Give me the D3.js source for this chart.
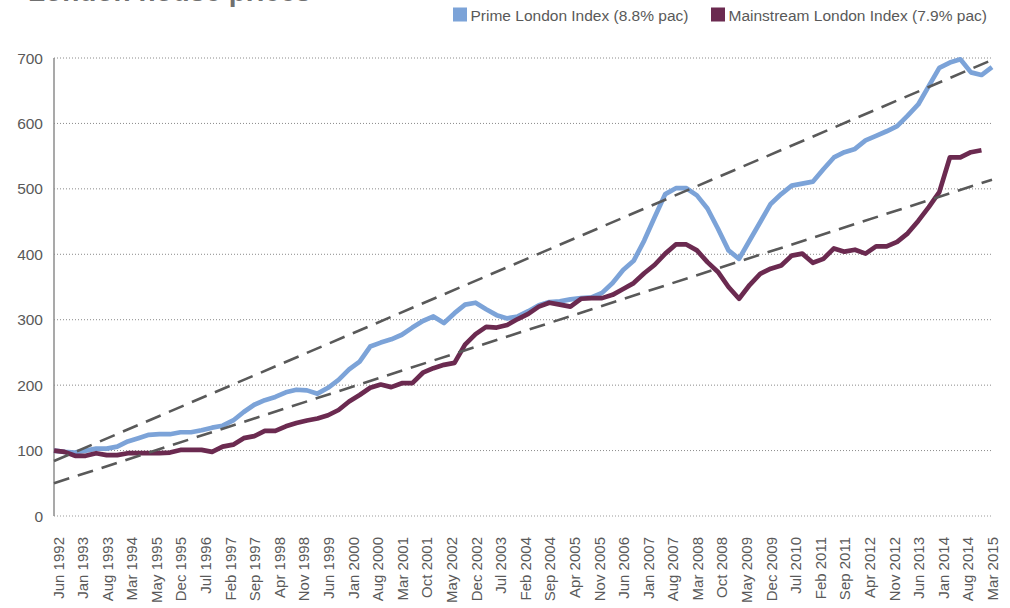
<!DOCTYPE html>
<html>
  <head>
    <meta charset="UTF-8" />
    <title>London house prices</title>
    <script src="https://d3js.org/d3.v7.min.js"></script>
    <style>
      body { margin: 0; background: #fff; }
      svg text { font-family: "Liberation Sans", Arial, Helvetica, sans-serif; fill: #595959; }
    </style>
  </head>
  <body>
    <div id="chart"></div>

    <script>
      ///////////////////////data///////////////////////////////

      // axis labels, one every 7 months (as printed on the original)
      const tickLabels = [
        "Jun 1992", "Jan 1993", "Aug 1993", "Mar 1994", "May 1995", "Dec 1995",
        "Jul 1996", "Feb 1997", "Sep 1997", "Apr 1998", "Nov 1998", "Jun 1999",
        "Jan 2000", "Aug 2000", "Mar 2001", "Oct 2001", "May 2002", "Dec 2002",
        "Jul 2003", "Feb 2004", "Sep 2004", "Apr 2005", "Nov 2005", "Jun 2006",
        "Jan 2007", "Aug 2007", "Mar 2008", "Oct 2008", "May 2009", "Dec 2009",
        "Jul 2010", "Feb 2011", "Sep 2011", "Apr 2012", "Nov 2012", "Jun 2013",
        "Jan 2014", "Aug 2014", "Mar 2015",
      ];
      const labelStep = 7; // months between labels
      const pointStep = 3; // quarterly readings

      const prime = [
        100, 98, 97, 100, 103, 103, 106, 114, 119, 124,
        125, 125, 128, 128, 131, 135, 138, 146, 159, 170,
        177, 182, 189, 193, 192, 187, 196, 208, 224, 236,
        259, 265, 270, 277, 288, 298, 305, 295, 310, 323,
        326, 316, 307, 302, 305, 313, 322, 327, 328, 331,
        333, 334, 341, 356, 376, 390, 421, 457, 492, 501,
        501, 490, 470, 439, 406, 393, 421, 449, 477, 492,
        505, 508, 511, 530, 548, 556, 561, 574, 581, 588,
        596, 612, 629, 657, 685, 693, 698, 678, 674, 686,
      ];

      const mainstream = [
        100, 98, 92, 92, 96, 93, 93, 96, 96, 96,
        96, 97, 101, 101, 101, 98, 106, 109, 119, 122,
        130, 130, 137, 142, 146, 149, 154, 162, 175, 185,
        196, 201, 197, 203, 203, 219, 226, 231, 234, 262,
        278, 289, 288, 292, 301, 309, 320, 326, 323, 320,
        332, 333, 333, 338, 347, 356, 371, 384, 401, 415,
        415, 406, 388, 373, 350, 332, 353, 370, 378, 383,
        398, 401, 387, 393, 409, 404, 407, 401, 412, 412,
        419, 432, 451, 472, 495, 548, 548, 556, 559,
      ];

      // linear trend lines: value at first and last quarter
      const primeTrend = [84, 697];
      const mainstreamTrend = [50, 514];

      const seriesNames = ["Prime London Index (8.8% pac)", "Mainstream London Index (7.9% pac)"];
      const colors = ["#7ca3d8", "#6b2a50"];
      const yTicks = [0, 100, 200, 300, 400, 500, 600, 700];

      ///////////////////////chart///////////////////////////////

      const width = 1010, height = 608;
      const svg = d3.select("#chart").append("svg")
        .attr("width", width).attr("height", height);

      const lastMonth = (prime.length - 1) * pointStep;
      const x = d3.scaleLinear().domain([0, lastMonth]).range([54, 992]);
      const y = d3.scaleLinear().domain([0, 700]).range([516, 58]);

      // title (cut by the top edge in the original)
      svg.append("text")
        .attr("x", 28).attr("y", 0.5)
        .style("font-size", "28px").style("font-weight", "bold")
        .style("fill", "#707070")
        .text("London house prices");

      // grid
      svg.append("g").selectAll("line")
        .data(yTicks)
        .join("line")
        .attr("x1", x(0)).attr("x2", 993)
        .attr("y1", (d) => y(d)).attr("y2", (d) => y(d))
        .attr("stroke", (d) => (d == 0 ? "#999" : "#8a8a8a"))
        .attr("stroke-width", 1)
        .attr("stroke-dasharray", "1,2");

      svg.append("line")
        .attr("x1", x(0)).attr("x2", x(0))
        .attr("y1", y(700)).attr("y2", y(0))
        .attr("stroke", "#8c8c8c").attr("stroke-width", 1.5);

      // y labels
      svg.append("g").selectAll("text")
        .data(yTicks)
        .join("text")
        .attr("x", 43).attr("y", (d) => y(d))
        .attr("dy", "0.36em")
        .attr("text-anchor", "end")
        .style("font-size", "15.5px")
        .text((d) => d);

      // x labels
      svg.append("g").selectAll("text")
        .data(tickLabels)
        .join("text")
        .attr("transform", (d, i) => `translate(${x(i * labelStep) + 4},537) rotate(-90)`)
        .attr("text-anchor", "end")
        .attr("dominant-baseline", "central")
        .style("font-size", "15px")
        .text((d) => d);

      // series
      const line = d3.line()
        .x((d, i) => x(i * pointStep))
        .y((d) => y(d));

      [prime, mainstream].forEach((s, k) => {
        svg.append("path")
          .datum(s)
          .attr("fill", "none")
          .attr("stroke", colors[k])
          .attr("stroke-width", 4.7)
          .attr("stroke-linejoin", "round")
          .attr("d", line);
      });

      // trends
      [primeTrend, mainstreamTrend].forEach((t) => {
        svg.append("line")
          .attr("x1", x(0)).attr("y1", y(t[0]))
          .attr("x2", x(lastMonth)).attr("y2", y(t[1]))
          .attr("stroke", "#595959")
          .attr("stroke-width", 2.6)
          .attr("stroke-dasharray", "16,9");
      });

      // legend
      const legendX = [453, 711];
      seriesNames.forEach((name, k) => {
        svg.append("rect")
          .attr("x", legendX[k]).attr("y", 7.5)
          .attr("width", 14).attr("height", 14)
          .attr("fill", colors[k]);
        svg.append("text")
          .attr("x", legendX[k] + 17.5).attr("y", 20.5)
          .style("font-size", "15.5px")
          .text(name);
      });
    </script>
  </body>
</html>
